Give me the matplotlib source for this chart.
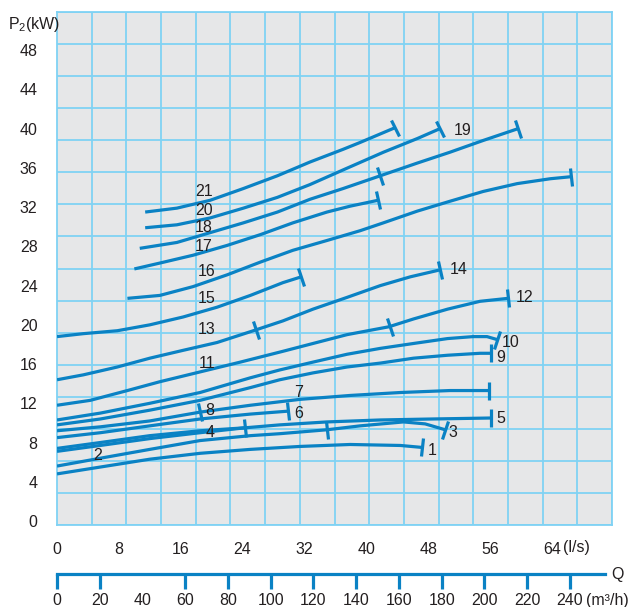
import numpy as np
import matplotlib.pyplot as plt
from matplotlib.markers import MarkerStyle
from matplotlib.transforms import Affine2D

plt.rcParams['font.family'] = ['Liberation Sans', 'DejaVu Sans']
plt.rcParams['mathtext.fontset'] = 'custom'
plt.rcParams['mathtext.rm'] = 'Liberation Sans'

# Flow Q (l/s) and shaft power P2 (kW)
q_21 = [11.4, 15.5, 19.8, 24.1, 28.5, 32.7, 37.0, 39.2, 43.7]
p_21 = [31.5, 31.9, 32.7, 33.9, 35.2, 36.6, 37.9, 38.6, 40.1]

q_20 = [11.4, 15.5, 19.8, 24.1, 28.5, 32.7, 37.0, 42.2, 46.6, 49.5]
p_20 = [29.9, 30.2, 30.9, 31.9, 33.0, 34.3, 35.8, 37.6, 39.0, 40.0]

q_18 = [10.7, 15.5, 19.8, 24.1, 28.5, 32.7, 37.0, 41.8, 46.6, 50.8, 55.1, 59.6]
p_18 = [27.8, 28.4, 29.4, 30.4, 31.5, 32.8, 33.9, 35.2, 36.5, 37.6, 38.8, 40.0]

q_17 = [10.0, 13.3, 17.6, 22.0, 26.3, 30.5, 34.9, 37.9, 41.5]
p_17 = [25.7, 26.3, 27.1, 28.1, 29.2, 30.4, 31.5, 32.1, 32.7]

q_16 = [9.1, 13.3, 17.6, 22.0, 26.3, 30.5, 34.9, 39.2, 42.2, 46.6, 50.8, 55.1, 59.5, 63.8, 66.4]
p_16 = [22.7, 23.0, 23.9, 25.1, 26.4, 27.6, 28.6, 29.6, 30.4, 31.6, 32.6, 33.6, 34.4, 34.9, 35.1]

q_15 = [0, 3.4, 7.8, 12.0, 16.3, 20.7, 25.0, 29.2, 31.6]
p_15 = [18.8, 19.1, 19.4, 20.0, 20.8, 21.8, 23.0, 24.3, 24.9]

q_14 = [0, 3.4, 7.8, 12.0, 16.3, 20.7, 25.0, 29.2, 33.1, 37.5, 41.8, 45.7, 49.5]
p_14 = [14.4, 14.9, 15.7, 16.6, 17.4, 18.2, 19.3, 20.4, 21.6, 22.8, 24.0, 24.9, 25.6]

q_12 = [0, 4.3, 9.1, 13.3, 18.5, 23.7, 29.2, 33.1, 37.5, 42.9, 46.1, 50.5, 54.7, 58.3]
p_12 = [11.8, 12.3, 13.3, 14.2, 15.2, 16.2, 17.3, 18.1, 19.0, 19.8, 20.6, 21.6, 22.4, 22.7]

q_10 = [0, 5.6, 12.0, 18.5, 25.0, 28.8, 33.1, 37.5, 41.8, 46.1, 50.5, 53.8, 55.6, 56.9]
p_10 = [10.3, 11.0, 12.0, 13.1, 14.6, 15.4, 16.2, 17.0, 17.6, 18.1, 18.6, 18.8, 18.8, 18.5]

q_9 = [0, 5.6, 12.0, 18.5, 25.0, 28.8, 33.1, 37.5, 41.8, 46.1, 50.5, 54.7, 56.1]
p_9 = [9.8, 10.4, 11.3, 12.3, 13.6, 14.4, 15.1, 15.7, 16.1, 16.6, 16.9, 17.1, 17.1]

q_7 = [0, 5.6, 12.0, 18.5, 25.0, 31.4, 37.9, 44.4, 50.8, 55.9]
p_7 = [9.2, 9.6, 10.2, 11.1, 11.8, 12.4, 12.8, 13.1, 13.3, 13.3]

q_6 = [0, 5.6, 12.0, 18.5, 25.0, 29.9]
p_6 = [8.5, 9.0, 9.7, 10.4, 10.9, 11.2]

q_5 = [0, 5.6, 12.0, 18.5, 24.3, 28.8, 34.9, 41.8, 48.5, 56.1]
p_5 = [7.1, 7.7, 8.4, 9.0, 9.5, 9.8, 10.1, 10.3, 10.4, 10.5]

q_4 = [0, 5.6, 12.0, 18.5, 24.3]
p_4 = [7.4, 8.0, 8.7, 9.2, 9.5]

q_3 = [0, 5.6, 12.0, 18.5, 25.0, 28.8, 34.9, 39.2, 44.8, 47.6, 50.2]
p_3 = [5.6, 6.4, 7.3, 8.2, 8.7, 8.9, 9.3, 9.7, 10.1, 9.9, 9.3]

q_1 = [0, 5.6, 12.0, 18.5, 25.0, 31.4, 37.9, 44.4, 47.2]
p_1 = [4.8, 5.5, 6.3, 6.9, 7.3, 7.6, 7.8, 7.7, 7.5]

# end-of-range marks part way along a shared curve (l/s)
mid_14 = [25.7]
mid_12 = [43.0]
mid_18 = [41.8]
mid_7 = [18.5]
mid_3 = [34.9]

curves = [
    (q_21, p_21, []), (q_20, p_20, []), (q_18, p_18, mid_18), (q_17, p_17, []),
    (q_16, p_16, []), (q_15, p_15, []), (q_14, p_14, mid_14), (q_12, p_12, mid_12),
    (q_10, p_10, []), (q_9, p_9, []), (q_7, p_7, mid_7), (q_6, p_6, []),
    (q_5, p_5, []), (q_4, p_4, []), (q_3, p_3, mid_3), (q_1, p_1, []),
]

# curve numbers and where they are printed
labels = ['21', '20', '18', '17', '16', '15', '13', '11', '14', '12', '19',
          '10', '9', '8', '7', '6', '5', '4', '3', '2', '1']
label_q = [19.0, 19.0, 19.0, 19.0, 19.3, 19.4, 19.4, 19.4, 51.9, 60.5, 52.4,
           58.6, 57.4, 19.8, 31.2, 31.2, 57.4, 19.8, 51.2, 5.2, 48.5]
label_p = [33.6, 31.7, 29.9, 28.0, 25.4, 22.7, 19.5, 16.1, 25.6, 22.8, 39.8,
           18.2, 16.7, 11.3, 13.1, 11.0, 10.5, 9.0, 9.0, 6.7, 7.2]

ls_ticks = list(range(0, 65, 8))
kw_ticks = list(range(0, 49, 4))
m3h_ticks = list(range(0, 241, 20))

blue = '#0a82c4'
grid_blue = '#80d2f4'
text_c = '#231f20'

fig = plt.figure(figsize=(6.32, 6.07), dpi=100)
ax = fig.add_axes([57 / 632, 82 / 607, 555 / 632, 513 / 607])
ax.set_facecolor('#e6e7e8')
xmax, ymin, ymax = 71.76, -0.41, 51.9
ax.set_xlim(0, xmax)
ax.set_ylim(ymin, ymax)

ax.set_xticks(np.linspace(0, xmax, 17), minor=True)
ax.set_yticks(np.linspace(ymin, ymax, 17), minor=True)
ax.grid(which='minor', color=grid_blue, lw=1.3)
ax.grid(which='major', visible=False)
for s in ax.spines.values():
    s.set_color(grid_blue)
    s.set_linewidth(1.3)
ax.set_axisbelow(True)

ax.set_xticks(ls_ticks)
ax.set_xticklabels([str(v) for v in ls_ticks])
ax.set_yticks(kw_ticks)
ax.set_yticklabels([str(v) for v in kw_ticks])
ax.tick_params(which='both', length=0, labelsize=11.5, colors=text_c)
ax.tick_params(axis='x', pad=12)
ax.tick_params(axis='y', pad=14)

# pixel scale for orienting the end marks
fig.canvas.draw()
sx = ax.transData.transform((1, 0))[0] - ax.transData.transform((0, 0))[0]
sy = ax.transData.transform((0, 1))[1] - ax.transData.transform((0, 0))[1]


def mark(q, p, x):
    qa, pa = np.asarray(q), np.asarray(p)
    y = np.interp(x, qa, pa)
    i = int(np.clip(np.searchsorted(qa, x), 1, len(qa) - 1))
    ang = np.degrees(np.arctan2((pa[i] - pa[i - 1]) * sy, (qa[i] - qa[i - 1]) * sx))
    m = MarkerStyle('|', transform=Affine2D().rotate_deg(ang))
    ax.plot([x], [y], marker=m, ms=13, mew=2.3, color=blue, zorder=4)


for q, p, mids in curves:
    ax.plot(q, p, color=blue, lw=2.3, solid_capstyle='butt',
            solid_joinstyle='round', zorder=3)
    mark(q, p, q[-1])
    for x in mids:
        mark(q, p, x)

for t, x, y in zip(labels, label_q, label_p):
    ax.text(x, y, t, fontsize=11.5, color=text_c, ha='center', va='center', zorder=5)

ax.text(67.2, -2.75, '(l/s)', fontsize=11.5, color=text_c, ha='center', va='center',
        clip_on=False)
fig.text(8 / 632, 1 - 25 / 607, r'P$_{\mathregular{2}}$(kW)', fontsize=11.5,
         color=text_c, ha='left', va='center')

# second flow scale in m3/h
ax2 = fig.add_axes([57 / 632, 33 / 607, 548 / 632, 0.0001])
ax2.set_xlim(0, 256.4)
ax2.set_ylim(0, 1)
for k in ['top', 'left', 'right']:
    ax2.spines[k].set_visible(False)
ax2.spines['bottom'].set_color(blue)
ax2.spines['bottom'].set_linewidth(2.3)
ax2.set_yticks([])
ax2.set_xticks(m3h_ticks)
ax2.set_xticklabels([str(v) for v in m3h_ticks])
ax2.tick_params(axis='x', direction='out', length=11, width=2.3, color=blue,
                labelsize=11.5, labelcolor=text_c, pad=3)
ax2.xaxis.get_major_ticks()[2].tick1line.set_visible(False)
ax2.set_facecolor('none')
fig.text(586 / 632, 1 - 601 / 607, '(m³/h)', fontsize=11.5, color=text_c,
         ha='left', va='center')
fig.text(617 / 632, 1 - 575 / 607, 'Q', fontsize=11.5, color=text_c,
         ha='center', va='center')

fig.savefig('out.png', dpi=100)
